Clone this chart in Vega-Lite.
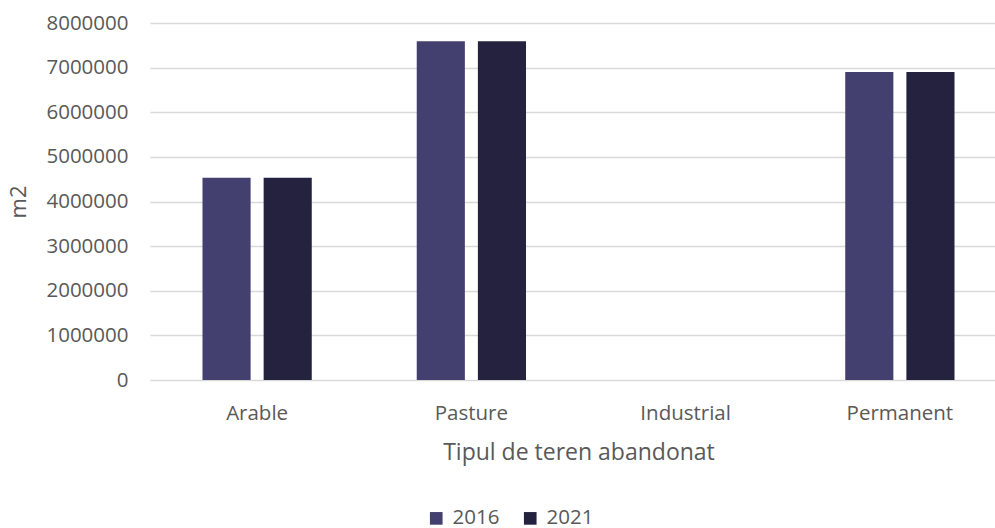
{
  "$schema": "https://vega.github.io/schema/vega-lite/v6.json",
  "autosize": "none",
  "width": 845,
  "height": 357,
  "padding": {"left": 150, "top": 23, "right": 0, "bottom": 148},
  "background": "white",
  "config": {
    "view": {"stroke": null},
    "font": "Open Sans",
    "axis": {"labelFont": "Open Sans", "titleFont": "Open Sans", "labelColor": "#595959", "titleColor": "#595959", "titleFontWeight": "normal"},
    "legend": {"labelFont": "Open Sans"}
  },
  "data": {
    "values": [
      {"tip": "Arable", "an": "2016", "m2": 4530000},
      {"tip": "Arable", "an": "2021", "m2": 4530000},
      {"tip": "Pasture", "an": "2016", "m2": 7590000},
      {"tip": "Pasture", "an": "2021", "m2": 7590000},
      {"tip": "Industrial", "an": "2016", "m2": 0},
      {"tip": "Industrial", "an": "2021", "m2": 0},
      {"tip": "Permanent", "an": "2016", "m2": 6900000},
      {"tip": "Permanent", "an": "2021", "m2": 6900000}
    ]
  },
  "mark": {"type": "bar"},
  "encoding": {
    "x": {
      "field": "tip",
      "type": "nominal",
      "sort": ["Arable", "Pasture", "Industrial", "Permanent"],
      "scale": {"range": [0, 857], "paddingInner": 0.49, "paddingOuter": 0.245},
      "axis": {
        "title": "Tipul de teren abandonat",
        "labelAngle": 0,
        "ticks": false,
        "domain": false,
        "labelFontSize": 20.5,
        "labelPadding": 23.5,
        "titleFontSize": 23,
        "titlePadding": 17
      }
    },
    "xOffset": {
      "field": "an",
      "type": "nominal",
      "scale": {"paddingInner": 0.213, "paddingOuter": 0}
    },
    "y": {
      "field": "m2",
      "type": "quantitative",
      "scale": {"domain": [0, 8000000], "nice": false},
      "axis": {
        "title": "m2",
        "values": [0, 1000000, 2000000, 3000000, 4000000, 5000000, 6000000, 7000000, 8000000],
        "format": "d",
        "ticks": false,
        "domain": false,
        "labelFontSize": 20.5,
        "labelPadding": 22,
        "titleFontSize": 22,
        "titlePadding": 15,
        "gridColor": "#d9d9d9",
        "gridWidth": 1.3
      }
    },
    "color": {
      "field": "an",
      "type": "nominal",
      "scale": {"domain": ["2016", "2021"], "range": ["#433f6e", "#25223f"]},
      "legend": {
        "title": null,
        "orient": "none",
        "direction": "horizontal",
        "legendX": 276,
        "legendY": 485,
        "padding": 0,
        "symbolType": "square",
        "symbolSize": 160,
        "symbolStrokeWidth": 0,
        "labelFontSize": 20.5,
        "labelColor": "#595959",
        "labelOffset": 6,
        "columnPadding": 20
      }
    }
  }
}
